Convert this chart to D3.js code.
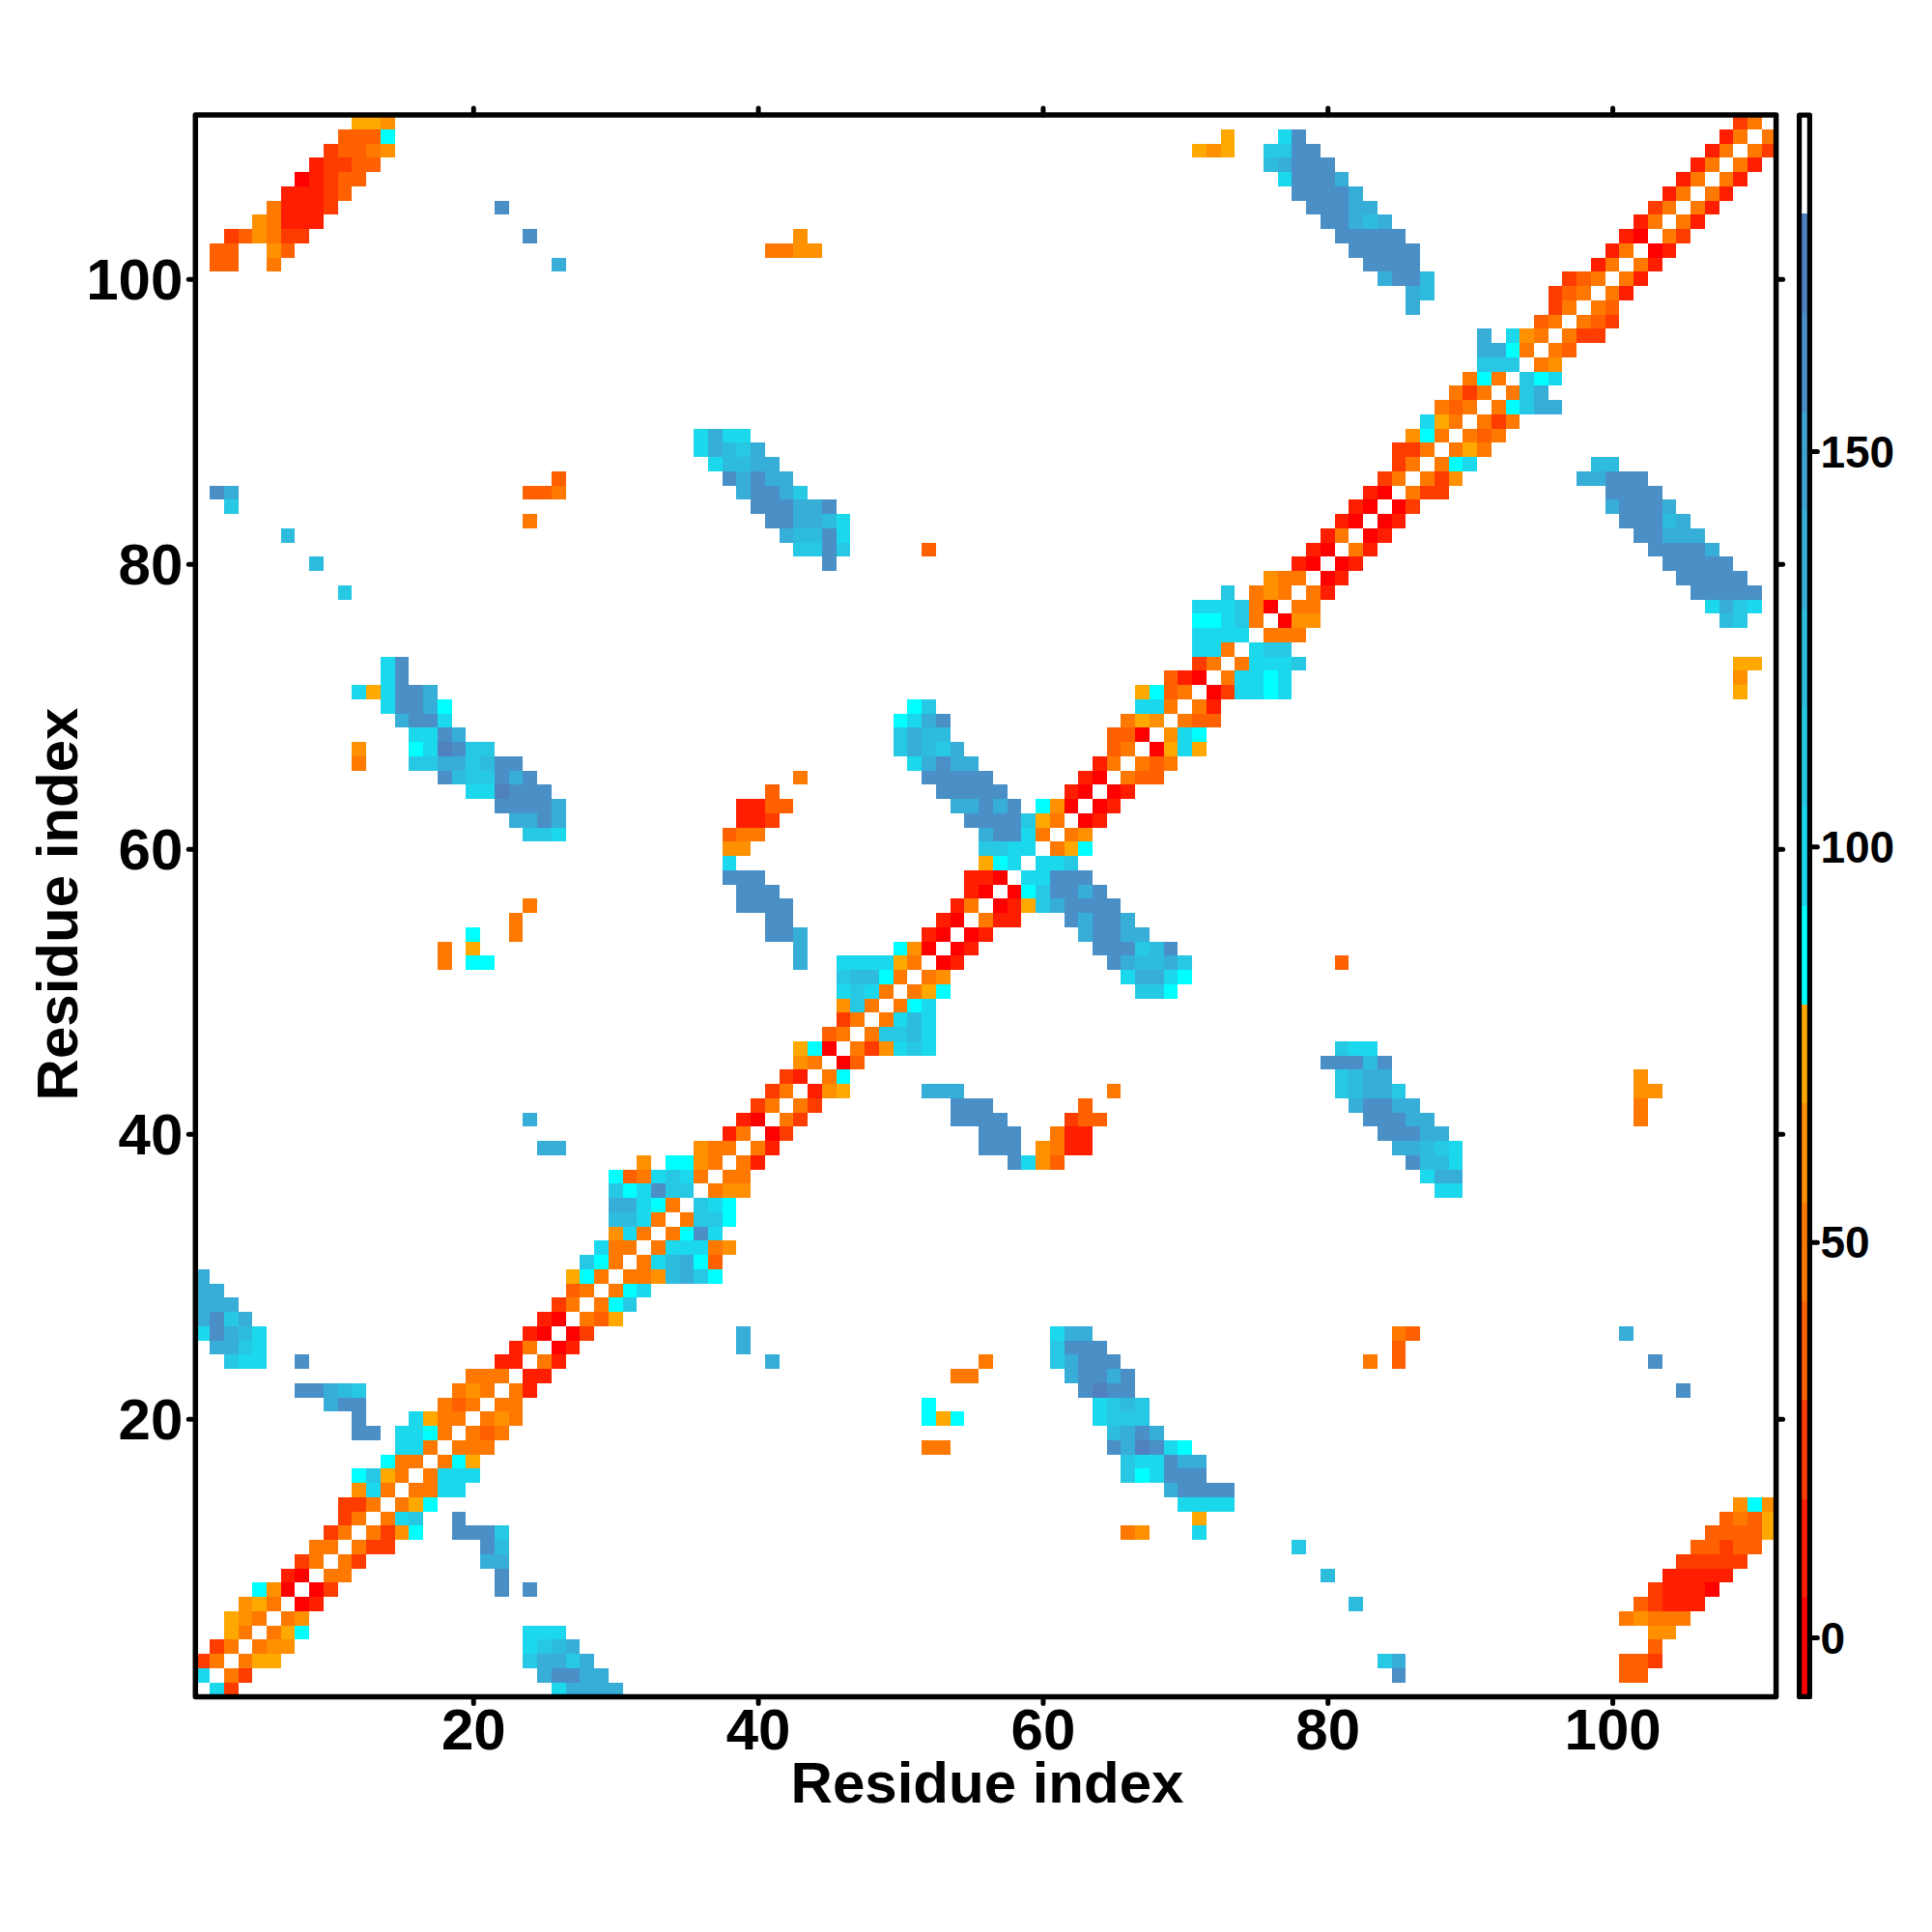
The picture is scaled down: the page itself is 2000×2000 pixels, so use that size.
<!DOCTYPE html>
<html><head><meta charset="utf-8">
<style>html,body{margin:0;padding:0;background:#fff}svg{display:block}text{font-family:"Liberation Sans",Arial,sans-serif;font-weight:bold;fill:#000}</style>
<script src="https://cdn.jsdelivr.net/npm/d3@7"></script></head><body><div id="chart"></div>
<script>
// Bin mid-points of the colour key (value = binMids[level]); each segment is [firstColumn, level, level, ...]
const binEdges=[-7.5,5,17.5,30,42.5,55,67.5,80,92.5,105,117.5,130,142.5,155,167.5,180,192.5];
const binMids=[-1,11,24,36,49,61,74,86,99,111,124,136,149,161,174];
const binColors=["#ff0000","#ff1e00","#ff3c00","#ff6000","#ff7800","#ff9000","#ffa800","#00ffff","#1cd8ec","#26c8e4","#2ebcde","#36aed8","#3ea2d2","#4a90c6","#5080be","#ffffff"];
const xTicks=[20,40,60,80,100];
const yTicks=[20,40,60,80,100];
const keyTicks=[0,50,100,150];
const xTitle="Residue index";
const yTitle="Residue index";

const row2=[[1,8]];
const row3=[[1,2,4]];
const row4=[[2,2,4]];
const row5=[[3,6,4]];
const row6=[[3,6,5,4]];
const row7=[[4,5,6,4]];
const row8=[[5,7,5,0]];
const row9=[[7,1,0]];
const row10=[[8,2,4]];
const row11=[[9,4,4]];
const row12=[[10,2,4]];
const row13=[[11,2,4]];
const row14=[[11,2,2,4]];
const row15=[[12,5,8,4]];
const row16=[[12,7,9,6,4]];
const row17=[[14,7,4,4]];
const row18=[[15,8,8,4]];
const row19=[[12,13,13],[15,8,8,7,4]];
const row20=[[12,13],[16,8,6,4,4]];
const row21=[[10,11,13,13],[18,4,3,4]];
const row22=[[8,13,13,11,10,9],[19,4,5,4]];
const row23=[[20,4,4,4]];
const row24=[[3,9,8,8],[8,13],[22,1,1]];
const row25=[[2,11,11,9,8],[23,1,4]];
const row26=[[1,8,13,11,10,8],[24,1,0]];
const row27=[[1,11,13,9,11],[25,1,0]];
const row28=[[1,11,11,11],[26,2,4]];
const row29=[[1,11,11],[27,3,4]];
const row30=[[1,11],[27,6,7,4]];
const row31=[[28,9,7,4]];
const row32=[[29,8,4,4]];
const row33=[[30,5,8,4]];
const row34=[[30,10,10,8,4]];
const row35=[[30,11,11,8,7,4]];
const row36=[[30,9,7,8,13,9,9]];
const row37=[[30,7,3,4,8,9,8,4]];
const row38=[[32,5],[34,7,7,5,4]];
const row39=[[25,11,11],[36,5,4,4]];
const row40=[[38,1,4]];
const row41=[[24,11],[39,1,0]];
const row42=[[40,2,4]];
const row43=[[41,2,4]];
const row44=[[42,2,1]];
const row45=[[43,5,4]];
const row46=[[43,6,7,0]];
const row47=[[45,3,4]];
const row48=[[46,2,4]];
const row49=[[46,5,9,4]];
const row50=[[46,8,9,8,4]];
const row51=[[46,9,10,10,7,4]];
const row52=[[18,4],[20,7,7],[43,11],[46,8,8,8,8,6,4]];
const row53=[[18,4],[20,6],[43,11],[50,7,5,0]];
const row54=[[20,7],[23,4],[41,13,13,11],[52,1,0]];
const row55=[[23,4],[41,13,13],[53,1,0]];
const row56=[[24,4],[39,13,13,13,13],[54,1,4]];
const row57=[[39,13,13,13],[55,1,0]];
const row58=[[38,13,13,13],[55,1,1,0]];
const row59=[[38,8],[56,6,7,8]];
const row60=[[38,5,5],[56,9,9,8,8]];
const row61=[[24,9,9,8],[38,3,4,4],[56,11,13,13,8,4]];
const row62=[[23,11,11,13,11],[39,1,1,2],[55,13,13,13,13,9,6,4]];
const row63=[[22,13,13,13,13,11],[39,1,1,3,3],[54,11,11,13,11,13],[60,7,5,0]];
const row64=[[20,8,8,14,13,13,13],[41,3],[53,13,13,13,13,13],[62,1,0]];
const row65=[[18,13,10,9,9,13,11,13],[43,4],[52,13,13,13,13,13],[63,1,0]];
const row66=[[12,4],[16,9,9,11,11,9,10,13,13],[51,8,11,13,11,11],[64,1,4]];
const row67=[[12,5],[16,7,8,14,13,9,9],[50,9,11,10,9,11],[65,3,4]];
const row68=[[16,8,8,13,11],[50,9,11,10,10],[65,3,3,0]];
const row69=[[15,11,13,13,8],[50,7,8,11,13],[66,4,6,5]];
const row70=[[14,8,13,13,11,7],[51,7,9],[67,8,8,4]];
const row71=[[12,8,6,8,13,13,11],[67,6,7,3,4]];
const row72=[[14,8,13],[69,3,1,0]];
const row73=[[14,8,13],[71,2,4]];
const row74=[[71,8,8,4]];
const row75=[[71,8,8,8,8]];
const row76=[[71,7,7,8,9,4]];
const row77=[[71,8,8,8,9,4,0]];
const row78=[[11,9],[73,9],[75,4,5,4]];
const row79=[[76,5,4,4]];
const row80=[[9,10],[45,13],[78,1,0]];
const row81=[[43,9,9,13,9],[52,3],[79,1,0]];
const row82=[[7,10],[42,11,10,10,13,8],[80,1,4]];
const row83=[[24,4],[41,13,13,11,11,10,8],[81,1,0]];
const row84=[[3,9],[40,13,13,13,11,11,13],[82,1,0]];
const row85=[[2,13,11],[24,3,3,4],[39,11,13,13,11,9],[83,1,0]];
const row86=[[26,3],[38,13,11,13,11,11],[84,2,4]];
const row87=[[37,8,10,10,11,11],[85,2,4]];
const row88=[[36,8,11,10,9,11],[85,2,2,4]];
const row89=[[36,8,11,8,8],[86,5,7,4]];
const row90=[[87,8,6,4]];
const row91=[[88,4,3,4]];
const row92=[[89,4,2,4]];
const row93=[[90,4,7,4]];
const row94=[[91,9,9,9]];
const row95=[[91,11,11,7,4]];
const row96=[[91,11],[93,8,5,4]];
const row97=[[95,3,4]];
const row98=[[86,11],[96,2,4]];
const row99=[[86,11,10],[96,2,3,4]];
const row100=[[84,11,13,13,10],[97,2,3,4]];
const row101=[[2,3,3],[6,4],[26,11],[83,13,13,13,13],[99,1,4]];
const row102=[[2,3,3],[6,5,3],[41,4,4,5,5],[82,13,13,13,13,13],[100,1,4]];
const row103=[[3,2,3,5,4,2,2],[24,13],[43,5],[81,13,13,13,13,13],[101,1,0]];
const row104=[[5,5,4,1,1,1],[80,13,13,11,10,11],[102,1,4]];
const row105=[[6,4,1,1,1,2],[22,13],[79,13,13,13,11,11],[103,2,4]];
const row106=[[7,1,1,1,2,3],[78,13,13,13,13,11],[104,1,4]];
const row107=[[8,0,1,2,3,3],[77,8,13,13,13,11],[105,1,4]];
const row108=[[9,1,2,2,3,3],[76,10,11,13,13,13],[106,1,4]];
const row109=[[10,2,3,3,4,5],[71,6,5,6],[76,9,9,13,13],[107,1,4]];
const row110=[[11,3,3,3,7],[73,6],[77,8,13],[108,1,4]];
const row111=[[12,6,6,5],[109,2,4]];
const rowSegments=[row2,row3,row4,row5,row6,row7,row8,row9,row10,row11,row12,row13,row14,row15,row16,row17,row18,row19,row20,row21,row22,row23,row24,row25,row26,row27,row28,row29,row30,row31,row32,row33,row34,row35,row36,row37,row38,row39,row40,row41,row42,row43,row44,row45,row46,row47,row48,row49,row50,row51,row52,row53,row54,row55,row56,row57,row58,row59,row60,row61,row62,row63,row64,row65,row66,row67,row68,row69,row70,row71,row72,row73,row74,row75,row76,row77,row78,row79,row80,row81,row82,row83,row84,row85,row86,row87,row88,row89,row90,row91,row92,row93,row94,row95,row96,row97,row98,row99,row100,row101,row102,row103,row104,row105,row106,row107,row108,row109,row110,row111];

const W=2000,H=2000;
const box={l:202.3,r:1838.6,t:119.1,b:1756.4};
const key={l:1862.6,r:1873.4};
const x=d3.scaleLinear().domain([0.5,111.5]).range([box.l,box.r]);
const y=d3.scaleLinear().domain([0.5,111.5]).range([box.b,box.t]);
const keyY=d3.scaleLinear().domain([-7.5,192.5]).range([box.b,box.t]);
const color=d3.scaleThreshold().domain(binEdges.slice(1,-1)).range(binColors);

const cells=[];
rowSegments.forEach((segs,k)=>{const r=k+2;segs.forEach(seg=>{seg.slice(1).forEach((lev,n)=>{const c=seg[0]+n,v=binMids[lev];cells.push({c,r,v});cells.push({c:r,r:c,v});});});});

const svg=d3.select("#chart").append("svg").attr("width",W).attr("height",H).attr("viewBox",`0 0 ${W} ${H}`);
svg.append("rect").attr("width",W).attr("height",H).attr("fill","#fff");

svg.append("g").selectAll("rect").data(cells).join("rect")
 .attr("x",d=>x(d.c-.5)).attr("width",d=>x(d.c+.5)-x(d.c-.5))
 .attr("y",d=>y(d.r+.5)).attr("height",d=>y(d.r-.5)-y(d.r+.5))
 .attr("fill",d=>color(d.v)).attr("shape-rendering","crispEdges");

// colour key
svg.append("g").selectAll("rect").data(d3.range(binColors.length)).join("rect")
 .attr("x",key.l).attr("width",key.r-key.l)
 .attr("y",i=>keyY(binEdges[i+1])).attr("height",i=>keyY(binEdges[i])-keyY(binEdges[i+1]))
 .attr("fill",i=>binColors[i]).attr("shape-rendering","crispEdges");

function style(g,size){
 g.select(".domain").remove();
 g.selectAll(".tick line").attr("stroke","#000").attr("stroke-width",5).attr("stroke-linecap","round");
 g.selectAll("text").style("font-size",size+"px").attr("fill","#000");
}
const bottom=svg.append("g").attr("transform",`translate(0,${box.b})`).call(d3.axisBottom(x).tickValues(xTicks).tickSize(7));
style(bottom,60);bottom.selectAll("text").attr("y",55).attr("dy",0);
const left=svg.append("g").attr("transform",`translate(${box.l},0)`).call(d3.axisLeft(y).tickValues(yTicks).tickSize(7));
style(left,60);left.selectAll("text").attr("x",-13).attr("dy","0.35em");
const top_=svg.append("g").attr("transform",`translate(0,${box.t})`).call(d3.axisTop(x).tickValues(xTicks).tickSize(7).tickFormat(""));
style(top_,60);
const right=svg.append("g").attr("transform",`translate(${box.r},0)`).call(d3.axisRight(y).tickValues(yTicks).tickSize(7).tickFormat(""));
style(right,60);
const keyAxis=svg.append("g").attr("transform",`translate(${key.r},0)`).call(d3.axisRight(keyY).tickValues(keyTicks).tickSize(8));
style(keyAxis,46);keyAxis.selectAll("text").attr("x",11).attr("dy","0.35em").attr("text-anchor","start");

svg.append("rect").attr("x",box.l).attr("y",box.t).attr("width",box.r-box.l).attr("height",box.b-box.t)
 .attr("fill","none").attr("stroke","#000").attr("stroke-width",5.5).attr("stroke-linejoin","round");
svg.append("rect").attr("x",key.l).attr("y",box.t).attr("width",key.r-key.l).attr("height",box.b-box.t)
 .attr("fill","none").attr("stroke","#000").attr("stroke-width",5.2).attr("stroke-linejoin","round");

svg.append("text").attr("x",1022).attr("y",1866).attr("text-anchor","middle").style("font-size","60px").text(xTitle);
svg.append("text").attr("transform","translate(80,936) rotate(-90)").attr("text-anchor","middle").style("font-size","60px").text(yTitle);
</script></body></html>
